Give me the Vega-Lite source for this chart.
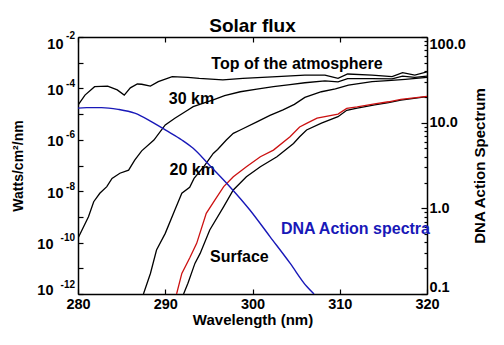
{
  "$schema": "https://vega.github.io/schema/vega-lite/v6.json",
  "autosize": {"type": "none"},
  "padding": {"left": 78, "top": 37, "right": 77, "bottom": 51},
  "width": 349,
  "height": 257,
  "background": "white",
  "title": {"text": "Solar flux", "font": "Liberation Sans", "fontSize": 19, "fontWeight": "bold", "color": "black", "anchor": "middle", "offset": -1, "dy": 5},
  "config": {
    "view": {"stroke": null},
    "axis": {"grid": false, "domainColor": "black", "domainWidth": 1.5, "tickColor": "black", "tickWidth": 1.2,
      "labelFont": "Liberation Sans", "labelFontWeight": "bold", "labelFontSize": 14.5, "labelColor": "black",
      "titleFont": "Liberation Sans", "titleFontWeight": "bold", "titleColor": "black", "labelFlush": false, "labelOverlap": false}
  },
  "datasets": {
    "flux": [
      {"s": "Top of the atmosphere", "wl": 280.0, "flux": 2.24e-5},
      {"s": "Top of the atmosphere", "wl": 280.8, "flux": 5.50e-5},
      {"s": "Top of the atmosphere", "wl": 281.9, "flux": 1.17e-4},
      {"s": "Top of the atmosphere", "wl": 283.4, "flux": 1.23e-4},
      {"s": "Top of the atmosphere", "wl": 284.5, "flux": 8.71e-5},
      {"s": "Top of the atmosphere", "wl": 285.3, "flux": 5.50e-5},
      {"s": "Top of the atmosphere", "wl": 286.0, "flux": 1.05e-4},
      {"s": "Top of the atmosphere", "wl": 286.8, "flux": 1.48e-4},
      {"s": "Top of the atmosphere", "wl": 287.3, "flux": 1.45e-4},
      {"s": "Top of the atmosphere", "wl": 288.3, "flux": 1.23e-4},
      {"s": "Top of the atmosphere", "wl": 289.2, "flux": 1.82e-4},
      {"s": "Top of the atmosphere", "wl": 290.8, "flux": 2.88e-4},
      {"s": "Top of the atmosphere", "wl": 292.6, "flux": 2.69e-4},
      {"s": "Top of the atmosphere", "wl": 293.9, "flux": 2.45e-4},
      {"s": "Top of the atmosphere", "wl": 296.6, "flux": 2.14e-4},
      {"s": "Top of the atmosphere", "wl": 298.9, "flux": 2.45e-4},
      {"s": "Top of the atmosphere", "wl": 302.8, "flux": 2.88e-4},
      {"s": "Top of the atmosphere", "wl": 306.0, "flux": 3.31e-4},
      {"s": "Top of the atmosphere", "wl": 308.3, "flux": 3.31e-4},
      {"s": "Top of the atmosphere", "wl": 309.8, "flux": 2.45e-4},
      {"s": "Top of the atmosphere", "wl": 310.9, "flux": 3.63e-4},
      {"s": "Top of the atmosphere", "wl": 313.7, "flux": 3.31e-4},
      {"s": "Top of the atmosphere", "wl": 316.0, "flux": 2.88e-4},
      {"s": "Top of the atmosphere", "wl": 317.2, "flux": 4.07e-4},
      {"s": "Top of the atmosphere", "wl": 318.6, "flux": 3.31e-4},
      {"s": "Top of the atmosphere", "wl": 320.0, "flux": 4.37e-4},
      {"s": "30 km", "wl": 280.0, "flux": 1.48e-10},
      {"s": "30 km", "wl": 281.2, "flux": 1.02e-9},
      {"s": "30 km", "wl": 281.8, "flux": 3.89e-9},
      {"s": "30 km", "wl": 282.5, "flux": 8.32e-9},
      {"s": "30 km", "wl": 283.3, "flux": 1.51e-8},
      {"s": "30 km", "wl": 283.9, "flux": 3.16e-8},
      {"s": "30 km", "wl": 284.8, "flux": 5.01e-8},
      {"s": "30 km", "wl": 285.8, "flux": 6.61e-8},
      {"s": "30 km", "wl": 286.5, "flux": 1.62e-7},
      {"s": "30 km", "wl": 287.3, "flux": 3.72e-7},
      {"s": "30 km", "wl": 288.7, "flux": 9.77e-7},
      {"s": "30 km", "wl": 290.0, "flux": 3.80e-6},
      {"s": "30 km", "wl": 291.1, "flux": 6.92e-6},
      {"s": "30 km", "wl": 292.6, "flux": 1.45e-5},
      {"s": "30 km", "wl": 293.2, "flux": 1.95e-5},
      {"s": "30 km", "wl": 294.3, "flux": 2.63e-5},
      {"s": "30 km", "wl": 295.5, "flux": 3.55e-5},
      {"s": "30 km", "wl": 296.8, "flux": 5.25e-5},
      {"s": "30 km", "wl": 298.6, "flux": 7.41e-5},
      {"s": "30 km", "wl": 300.5, "flux": 9.33e-5},
      {"s": "30 km", "wl": 302.4, "flux": 1.17e-4},
      {"s": "30 km", "wl": 304.3, "flux": 1.41e-4},
      {"s": "30 km", "wl": 306.0, "flux": 1.66e-4},
      {"s": "30 km", "wl": 308.3, "flux": 1.95e-4},
      {"s": "30 km", "wl": 309.8, "flux": 1.78e-4},
      {"s": "30 km", "wl": 310.9, "flux": 2.40e-4},
      {"s": "30 km", "wl": 313.7, "flux": 2.40e-4},
      {"s": "30 km", "wl": 316.0, "flux": 2.34e-4},
      {"s": "30 km", "wl": 317.2, "flux": 3.02e-4},
      {"s": "30 km", "wl": 318.6, "flux": 2.69e-4},
      {"s": "30 km", "wl": 320.0, "flux": 3.02e-4},
      {"s": "20 km", "wl": 287.5, "flux": 1.0e-12},
      {"s": "20 km", "wl": 288.3, "flux": 6.31e-12},
      {"s": "20 km", "wl": 289.0, "flux": 5.13e-11},
      {"s": "20 km", "wl": 290.0, "flux": 2.29e-10},
      {"s": "20 km", "wl": 291.1, "flux": 1.86e-9},
      {"s": "20 km", "wl": 291.9, "flux": 8.32e-9},
      {"s": "20 km", "wl": 292.8, "flux": 1.41e-8},
      {"s": "20 km", "wl": 293.3, "flux": 3.16e-8},
      {"s": "20 km", "wl": 294.4, "flux": 8.91e-8},
      {"s": "20 km", "wl": 295.5, "flux": 2.95e-7},
      {"s": "20 km", "wl": 296.0, "flux": 4.17e-7},
      {"s": "20 km", "wl": 297.0, "flux": 9.77e-7},
      {"s": "20 km", "wl": 297.8, "flux": 1.78e-6},
      {"s": "20 km", "wl": 298.6, "flux": 2.40e-6},
      {"s": "20 km", "wl": 300.5, "flux": 5.01e-6},
      {"s": "20 km", "wl": 302.0, "flux": 8.91e-6},
      {"s": "20 km", "wl": 303.5, "flux": 1.45e-5},
      {"s": "20 km", "wl": 304.8, "flux": 2.40e-5},
      {"s": "20 km", "wl": 306.0, "flux": 4.47e-5},
      {"s": "20 km", "wl": 307.9, "flux": 7.41e-5},
      {"s": "20 km", "wl": 309.5, "flux": 9.55e-5},
      {"s": "20 km", "wl": 311.0, "flux": 1.35e-4},
      {"s": "20 km", "wl": 313.7, "flux": 1.82e-4},
      {"s": "20 km", "wl": 315.5, "flux": 2.00e-4},
      {"s": "20 km", "wl": 317.5, "flux": 2.24e-4},
      {"s": "20 km", "wl": 320.0, "flux": 2.69e-4},
      {"s": "Surface", "wl": 292.1, "flux": 1.0e-12},
      {"s": "Surface", "wl": 292.6, "flux": 2.63e-12},
      {"s": "Surface", "wl": 293.4, "flux": 1.55e-11},
      {"s": "Surface", "wl": 294.0, "flux": 3.80e-11},
      {"s": "Surface", "wl": 295.1, "flux": 3.09e-10},
      {"s": "Surface", "wl": 296.7, "flux": 2.51e-9},
      {"s": "Surface", "wl": 297.8, "flux": 1.12e-8},
      {"s": "Surface", "wl": 299.3, "flux": 3.63e-8},
      {"s": "Surface", "wl": 300.9, "flux": 8.91e-8},
      {"s": "Surface", "wl": 302.8, "flux": 2.19e-7},
      {"s": "Surface", "wl": 304.7, "flux": 7.24e-7},
      {"s": "Surface", "wl": 305.4, "flux": 1.32e-6},
      {"s": "Surface", "wl": 306.2, "flux": 2.40e-6},
      {"s": "Surface", "wl": 307.9, "flux": 4.47e-6},
      {"s": "Surface", "wl": 309.8, "flux": 7.94e-6},
      {"s": "Surface", "wl": 310.8, "flux": 1.41e-5},
      {"s": "Surface", "wl": 312.0, "flux": 1.70e-5},
      {"s": "Surface", "wl": 314.0, "flux": 2.29e-5},
      {"s": "Surface", "wl": 315.6, "flux": 2.82e-5},
      {"s": "Surface", "wl": 317.0, "flux": 3.47e-5},
      {"s": "Surface", "wl": 318.5, "flux": 4.07e-5},
      {"s": "Surface", "wl": 320.0, "flux": 4.79e-5},
      {"s": "Surface red", "wl": 291.3, "flux": 1.0e-12},
      {"s": "Surface red", "wl": 291.9, "flux": 6.31e-12},
      {"s": "Surface red", "wl": 292.8, "flux": 2.51e-11},
      {"s": "Surface red", "wl": 293.6, "flux": 9.33e-11},
      {"s": "Surface red", "wl": 294.7, "flux": 1.38e-9},
      {"s": "Surface red", "wl": 295.7, "flux": 4.57e-9},
      {"s": "Surface red", "wl": 296.7, "flux": 1.51e-8},
      {"s": "Surface red", "wl": 297.8, "flux": 3.63e-8},
      {"s": "Surface red", "wl": 299.3, "flux": 8.91e-8},
      {"s": "Surface red", "wl": 300.9, "flux": 2.19e-7},
      {"s": "Surface red", "wl": 302.4, "flux": 3.98e-7},
      {"s": "Surface red", "wl": 304.3, "flux": 1.32e-6},
      {"s": "Surface red", "wl": 305.4, "flux": 3.16e-6},
      {"s": "Surface red", "wl": 306.2, "flux": 4.37e-6},
      {"s": "Surface red", "wl": 307.4, "flux": 6.92e-6},
      {"s": "Surface red", "wl": 309.8, "flux": 1.0e-5},
      {"s": "Surface red", "wl": 310.8, "flux": 1.66e-5},
      {"s": "Surface red", "wl": 312.0, "flux": 1.91e-5},
      {"s": "Surface red", "wl": 314.0, "flux": 2.51e-5},
      {"s": "Surface red", "wl": 315.6, "flux": 3.02e-5},
      {"s": "Surface red", "wl": 317.0, "flux": 3.72e-5},
      {"s": "Surface red", "wl": 318.5, "flux": 4.27e-5},
      {"s": "Surface red", "wl": 320.0, "flux": 4.90e-5}
    ],
    "dna": [
      {"wl": 280.0, "dna": 14.8},
      {"wl": 281.0, "dna": 15.0},
      {"wl": 282.7, "dna": 15.0},
      {"wl": 284.6, "dna": 14.3},
      {"wl": 286.5, "dna": 12.9},
      {"wl": 288.4, "dna": 10.3},
      {"wl": 290.0, "dna": 8.22},
      {"wl": 291.9, "dna": 6.28},
      {"wl": 293.2, "dna": 5.02},
      {"wl": 295.1, "dna": 3.16},
      {"wl": 297.4, "dna": 1.79},
      {"wl": 299.7, "dna": 0.957},
      {"wl": 302.0, "dna": 0.468},
      {"wl": 304.3, "dna": 0.229},
      {"wl": 306.2, "dna": 0.123},
      {"wl": 307.05, "dna": 0.1}
    ],
    "labels": [
      {"label": "Top of the atmosphere", "kind": "flux", "wl": 305.1, "flux": 8.9e-4},
      {"label": "30 km", "kind": "flux", "wl": 293.0, "flux": 3.7e-5},
      {"label": "20 km", "kind": "flux", "wl": 293.1, "flux": 6.6e-8},
      {"label": "Surface", "kind": "flux", "wl": 298.5, "flux": 2.75e-11},
      {"label": "DNA Action spectra", "kind": "dna", "wl": 311.8, "flux": 3.4e-10}
    ]
  },
  "resolve": {"scale": {"y": "independent"}, "axis": {"x": "independent"}},
  "layer": [
    {
      "resolve": {"axis": {"y": "independent"}},
      "layer": [
        {
          "data": {"name": "flux"},
          "mark": {"type": "line", "strokeWidth": 1.3, "clip": true},
          "encoding": {
            "x": {"field": "wl", "type": "quantitative", "scale": {"domain": [280, 320], "nice": false, "zero": false},
              "axis": {"orient": "bottom", "values": [280, 290, 300, 310, 320], "tickSize": -5, "labelPadding": 8, "title": "Wavelength (nm)", "titleFontSize": 15, "titleBaseline": "alphabetic", "titleY": 30}},
            "y": {"field": "flux", "type": "quantitative", "scale": {"type": "log", "domain": [1e-12, 1e-2], "nice": false},
              "axis": {"orient": "left", "values": [1e-2, 1e-3, 1e-4, 1e-5, 1e-6, 1e-7, 1e-8, 1e-9, 1e-10, 1e-11, 1e-12], "tickSize": -5,
                "labelPadding": {"condition": {"test": "datum.value < 5e-10", "value": 30}, "value": 20},
                "labelOffset": {"condition": [{"test": "datum.value > 5e-3", "value": 7}, {"test": "datum.value < 5e-12", "value": -4}], "value": 2},
                "labelExpr": "(round(log(datum.value)/LN10) % 2 == 0) ? '10' : ''",
                "title": "Watts/cm²/nm", "titleFontSize": 14, "titleAngle": 270, "titleBaseline": "middle", "titleX": -60, "titleY": 128.5}},
            "color": {"field": "s", "type": "nominal", "legend": null,
              "scale": {"domain": ["Top of the atmosphere", "30 km", "20 km", "Surface", "Surface red"], "range": ["black", "black", "black", "black", "#cc1111"]}}
          }
        },
        {
          "data": {"name": "labels"},
          "transform": [{"filter": "datum.kind == 'flux'"}],
          "mark": {"type": "text", "font": "Liberation Sans", "fontWeight": "bold", "fontSize": 16, "color": "black", "align": "center", "baseline": "middle"},
          "encoding": {
            "x": {"field": "wl", "type": "quantitative", "scale": {"domain": [280, 320], "nice": false, "zero": false},
              "axis": {"orient": "bottom", "values": [280, 290, 300, 310, 320], "tickSize": -5, "labelPadding": 8, "title": "Wavelength (nm)", "titleFontSize": 15, "titleBaseline": "alphabetic", "titleY": 30}},
            "y": {"field": "flux", "type": "quantitative", "scale": {"type": "log", "domain": [1e-12, 1e-2], "nice": false},
              "axis": {"orient": "left", "values": [1e-2, 1e-4, 1e-6, 1e-8, 1e-10, 1e-12], "ticks": false, "tickSize": 0, "domain": false, "title": null,
                "labelFontSize": 10, "labelPadding": 3.5,
                "labelOffset": {"condition": [{"test": "datum.value > 5e-3", "value": -2}, {"test": "datum.value < 5e-12", "value": -10}], "value": -5},
                "labelExpr": "'-' + (-round(log(datum.value)/LN10))"}},
            "text": {"field": "label"}
          }
        },
        {
          "data": {"name": "labels"},
          "transform": [{"filter": "datum.kind == 'dna'"}],
          "mark": {"type": "text", "font": "Liberation Sans", "fontWeight": "bold", "fontSize": 16, "color": "#1818b8", "align": "center", "baseline": "middle"},
          "encoding": {
            "x": {"field": "wl", "type": "quantitative", "scale": {"domain": [280, 320], "nice": false, "zero": false},
              "axis": {"orient": "bottom", "values": [280, 290, 300, 310, 320], "tickSize": -5, "labelPadding": 8, "title": "Wavelength (nm)", "titleFontSize": 15, "titleBaseline": "alphabetic", "titleY": 30}},
            "y": {"field": "flux", "type": "quantitative", "scale": {"type": "log", "domain": [1e-12, 1e-2], "nice": false}, "axis": null},
            "text": {"field": "label"}
          }
        }
      ]
    },
    {
      "data": {"name": "dna"},
      "mark": {"type": "line", "strokeWidth": 1.4, "color": "#1818b8", "interpolate": "monotone", "clip": true},
      "encoding": {
        "x": {"field": "wl", "type": "quantitative", "scale": {"domain": [280, 320], "nice": false, "zero": false},
          "axis": {"orient": "top", "values": [280, 290, 300, 310, 320], "tickSize": -5, "labels": false, "title": null}},
        "y": {"field": "dna", "type": "quantitative", "scale": {"type": "log", "domain": [0.1, 100], "nice": false},
          "axis": {"orient": "right", "values": [0.1, 0.2, 0.3, 0.4, 0.5, 0.6, 0.7, 0.8, 0.9, 1, 2, 3, 4, 5, 6, 7, 8, 9, 10, 20, 30, 40, 50, 60, 70, 80, 90, 100],
            "tickSize": {"condition": {"test": "abs(log(datum.value)/LN10 - round(log(datum.value)/LN10)) < 0.001", "value": -6}, "value": -3},
            "labelPadding": 8, "labelFlush": true, "labelFlushOffset": 0,
            "labelExpr": "abs(log(datum.value)/LN10 - round(log(datum.value)/LN10)) < 0.001 ? format(datum.value, '.1f') : ''",
            "title": "DNA Action Spectrum", "titleFontSize": 15, "titleAngle": 270, "titleBaseline": "middle", "titleX": 52, "titleY": 128.5}}
      }
    }
  ]
}
